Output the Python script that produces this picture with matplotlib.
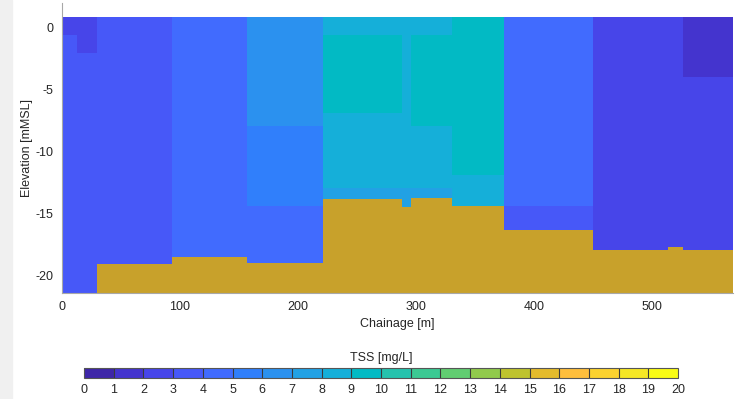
import numpy as np
import matplotlib
matplotlib.use("Agg")
import matplotlib.pyplot as plt
from matplotlib.colors import LinearSegmentedColormap, BoundaryNorm
from matplotlib.patches import Rectangle

plt.rcParams['font.family'] = ['Liberation Sans', 'DejaVu Sans']
plt.rcParams['axes.unicode_minus'] = False

# cell edges of the TSS section (chainage in m, elevation in mMSL)
x_edges = [0, 13, 30, 93, 157, 221, 288, 296, 331, 375, 450, 527, 569]
z_edges = [0.9, -0.6, -2.0, -4.0, -6.9, -7.9, -11.9, -12.9, -14.4, -16.3, -21.4]

# TSS [mg/L] per cell, rows top -> bottom
tss = [
    [2.5, 2.5, 3.5, 4.5, 6.5, 8.5, 8.5, 8.5, 9.5, 4.5, 2.5, 1.5],
    [3.5, 2.5, 3.5, 4.5, 6.5, 9.5, 8.5, 9.5, 9.5, 4.5, 2.5, 1.5],
    [3.5, 3.5, 3.5, 4.5, 6.5, 9.5, 8.5, 9.5, 9.5, 4.5, 2.5, 1.5],
    [3.5, 3.5, 3.5, 4.5, 6.5, 9.5, 8.5, 9.5, 9.5, 4.5, 2.5, 2.5],
    [3.5, 3.5, 3.5, 4.5, 6.5, 8.5, 8.5, 9.5, 9.5, 4.5, 2.5, 2.5],
    [3.5, 3.5, 3.5, 4.5, 5.5, 8.5, 8.5, 8.5, 9.5, 4.5, 2.5, 2.5],
    [3.5, 3.5, 3.5, 4.5, 5.5, 8.5, 8.5, 8.5, 8.5, 4.5, 2.5, 2.5],
    [3.5, 3.5, 3.5, 4.5, 5.5, 7.5, 7.5, 7.5, 8.5, 4.5, 2.5, 2.5],
    [3.5, 3.5, 3.5, 4.5, 4.5, 7.5, 7.5, 7.5, 8.5, 3.5, 2.5, 2.5],
    [3.5, 3.5, 3.5, 4.5, 4.5, 7.5, 7.5, 7.5, 8.5, 3.5, 2.5, 2.5],
]

# bed level (step profile, value holds until next chainage)
bed_x = [0, 30, 93, 157, 221, 288, 296, 331, 375, 450, 514, 527, 569]
bed_z = [-25, -19.1, -18.5, -19.0, -13.8, -14.5, -13.7, -14.4, -16.3, -17.9, -17.7, -17.9, -17.9]

cbar_ticks = list(range(0, 21))

# matlab parula (64 entries)
parula64 = [
    [0.2422, 0.1504, 0.6603], [0.2504, 0.1650, 0.7076], [0.2578, 0.1818, 0.7511], [0.2647, 0.1978, 0.7952],
    [0.2706, 0.2147, 0.8364], [0.2751, 0.2342, 0.8710], [0.2783, 0.2559, 0.8991], [0.2803, 0.2782, 0.9221],
    [0.2813, 0.3006, 0.9414], [0.2810, 0.3228, 0.9579], [0.2795, 0.3447, 0.9717], [0.2760, 0.3667, 0.9829],
    [0.2699, 0.3892, 0.9906], [0.2602, 0.4123, 0.9952], [0.2440, 0.4358, 0.9988], [0.2206, 0.4603, 0.9973],
    [0.1963, 0.4847, 0.9892], [0.1834, 0.5074, 0.9798], [0.1786, 0.5289, 0.9682], [0.1764, 0.5499, 0.9520],
    [0.1687, 0.5703, 0.9359], [0.1540, 0.5902, 0.9218], [0.1460, 0.6091, 0.9079], [0.1380, 0.6276, 0.8973],
    [0.1248, 0.6459, 0.8883], [0.1113, 0.6635, 0.8763], [0.0952, 0.6798, 0.8598], [0.0689, 0.6948, 0.8394],
    [0.0297, 0.7082, 0.8163], [0.0036, 0.7203, 0.7917], [0.0067, 0.7312, 0.7660], [0.0433, 0.7411, 0.7394],
    [0.0964, 0.7500, 0.7120], [0.1408, 0.7584, 0.6842], [0.1717, 0.7670, 0.6554], [0.1938, 0.7758, 0.6251],
    [0.2161, 0.7843, 0.5923], [0.2470, 0.7918, 0.5567], [0.2906, 0.7973, 0.5188], [0.3406, 0.8008, 0.4789],
    [0.3909, 0.8029, 0.4354], [0.4456, 0.8024, 0.3909], [0.5044, 0.7993, 0.3480], [0.5616, 0.7942, 0.3045],
    [0.6174, 0.7876, 0.2612], [0.6720, 0.7793, 0.2227], [0.7242, 0.7698, 0.1910], [0.7738, 0.7598, 0.1646],
    [0.8203, 0.7498, 0.1535], [0.8634, 0.7406, 0.1596], [0.9035, 0.7330, 0.1774], [0.9393, 0.7288, 0.2100],
    [0.9728, 0.7298, 0.2394], [0.9956, 0.7434, 0.2371], [0.9970, 0.7659, 0.2199], [0.9952, 0.7893, 0.2028],
    [0.9892, 0.8136, 0.1885], [0.9786, 0.8386, 0.1766], [0.9676, 0.8639, 0.1643], [0.9610, 0.8890, 0.1537],
    [0.9597, 0.9135, 0.1423], [0.9628, 0.9373, 0.1265], [0.9691, 0.9606, 0.1064], [0.9769, 0.9839, 0.0805],
]
cmap = LinearSegmentedColormap.from_list('parula', parula64, N=20)
norm = BoundaryNorm(np.arange(0, 21), cmap.N)

txt = '#262626'
spine = '#a8a8a8'

fig = plt.figure(figsize=(7.38, 3.99), dpi=100)
fig.patches.append(Rectangle((0, 0), 12 / 738, 1, transform=fig.transFigure,
                             color='#f0f0f0', zorder=0))

ax = fig.add_axes([62 / 738, 1 - 293 / 399, 671 / 738, 290 / 399])
mesh = ax.pcolormesh(x_edges, z_edges, np.array(tss), cmap=cmap, norm=norm,
                     shading='flat', edgecolors='none', antialiased=False)
ax.fill_between(bed_x, bed_z, -30, step='post', color='#c8a12b', lw=0, zorder=3)

ax.set_xlim(0, 569)
ax.set_ylim(-21.4, 2.0)
ax.set_xticks([0, 100, 200, 300, 400, 500])
ax.set_yticks([-20, -15, -10, -5, 0])
ax.tick_params(length=0, labelsize=9, colors=txt, pad=6)
for s in ['top', 'right']:
    ax.spines[s].set_visible(False)
for s in ['left', 'bottom']:
    ax.spines[s].set_color(spine)
    ax.spines[s].set_zorder(5)
ax.set_xlabel('Chainage [m]', fontsize=9, color=txt, labelpad=3)
ax.set_ylabel('Elevation [mMSL]', fontsize=9, color=txt, labelpad=2)

cax = fig.add_axes([84 / 738, 1 - 378 / 399, 594 / 738, 10 / 399])
cb = fig.colorbar(mesh, cax=cax, orientation='horizontal', ticks=cbar_ticks,
                  drawedges=True)
cb.outline.set_edgecolor('#555555')
cb.outline.set_linewidth(0.8)
cb.dividers.set_color('#3a3a3a')
cb.dividers.set_linewidth(0.8)
cax.tick_params(length=0, labelsize=9, labelcolor=txt, pad=4)
cb.set_label('TSS [mg/L]', fontsize=9, color=txt, labelpad=5)
cax.xaxis.set_label_position('top')

fig.savefig('out.png', dpi=100)
